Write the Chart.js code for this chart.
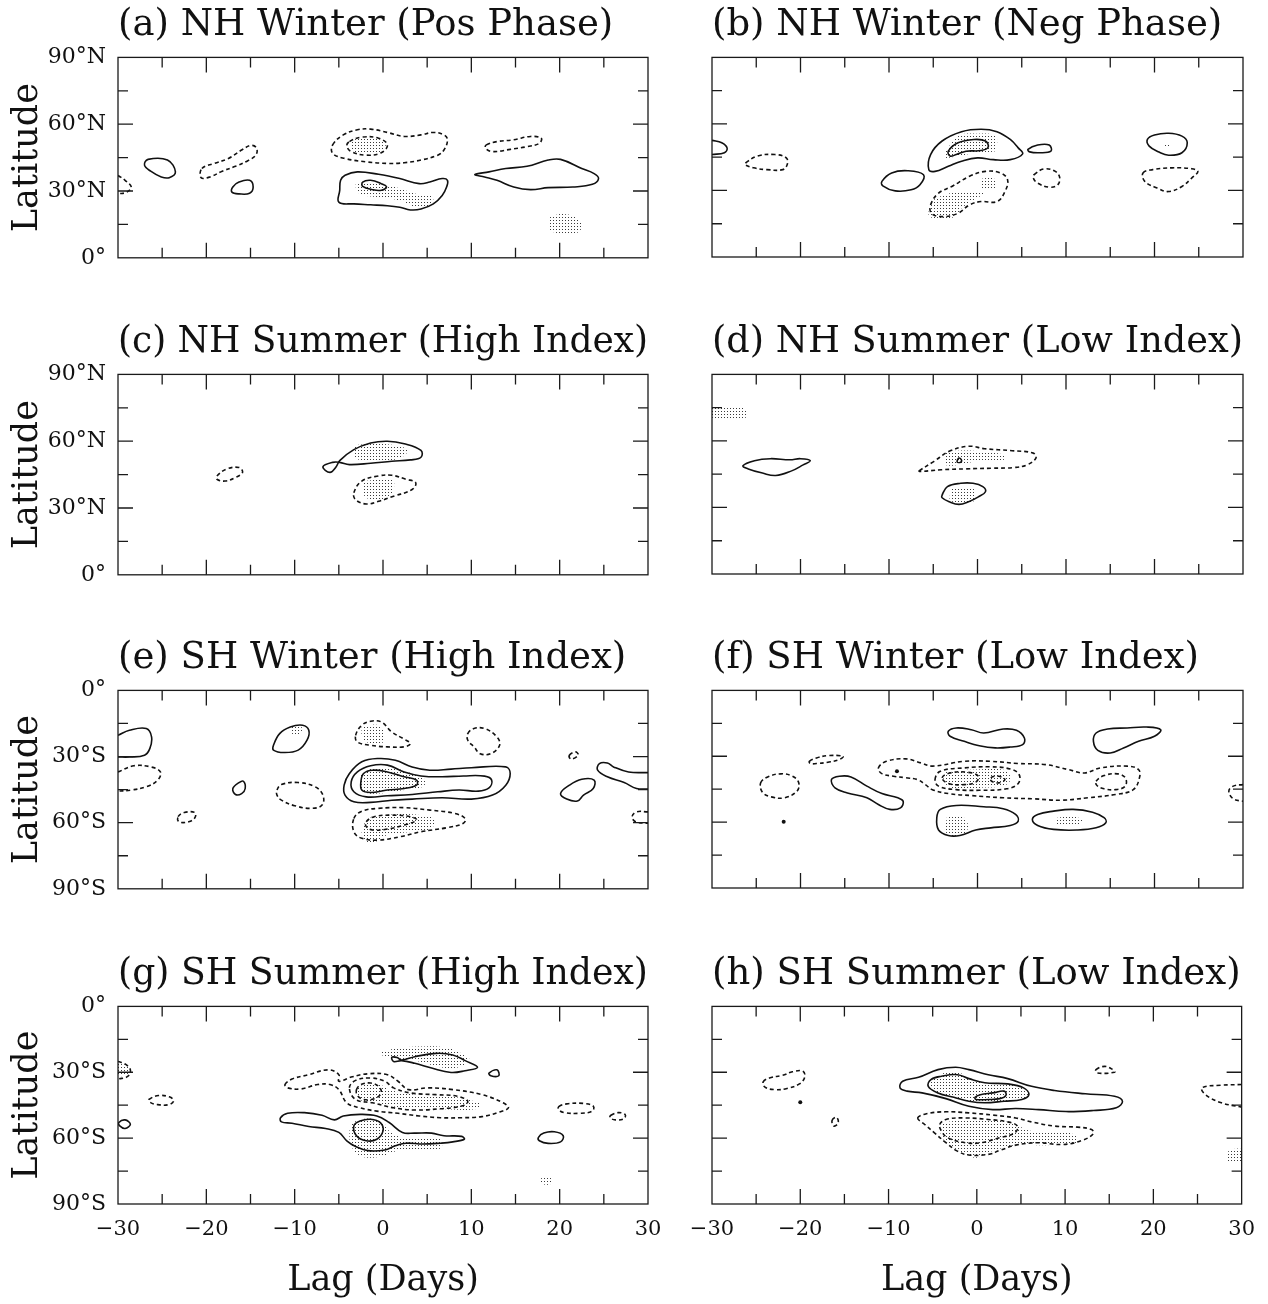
<!DOCTYPE html>
<html>
<head>
<meta charset="utf-8">
<title>Lag-latitude composites</title>
<script src="https://cdn.jsdelivr.net/npm/chart.js@4.4.0/dist/chart.umd.min.js"></script>
<style>
  body { margin: 0; background: #fff; }
  #page { position: relative; width: 1268px; height: 1304px; overflow: hidden; }
  canvas { position: absolute; }
</style>
</head>
<body>
<div id="page"></div>
<script>
// axis ticks and labels
const lagTicks = [-30, -20, -10, 0, 10, 20, 30];
const lagTickText = ['\u221230', '\u221220', '\u221210', '0', '10', '20', '30'];
const lagMarks = [-25, -20, -15, -10, -5, 0, 5, 10, 15, 20, 25];
const nhLatTicks = [0, 30, 60, 90];
const nhLatText = ['0\u00b0', '30\u00b0N', '60\u00b0N', '90\u00b0N'];
const nhLatMarks = [15, 30, 45, 60, 75];
const shLatTicks = [0, -30, -60, -90];
const shLatText = ['0\u00b0', '30\u00b0S', '60\u00b0S', '90\u00b0S'];
const shLatMarks = [-15, -30, -45, -60, -75];

const titles = [
  '(a) NH Winter (Pos Phase)', '(b) NH Winter (Neg Phase)',
  '(c) NH Summer (High Index)', '(d) NH Summer (Low Index)',
  '(e) SH Winter (High Index)', '(f) SH Winter (Low Index)',
  '(g) SH Summer (High Index)', '(h) SH Summer (Low Index)'
];

// contours, [lag, latitude]; Pos = solid, Neg = dashed, Sig = stippled
const aPos = [
  [[-27.0,41.6],[-26.6,44.2],[-24.4,43.9],[-23.5,38.6],[-24.2,36.0],[-25.1,36.3],[-26.3,38.9]],
  [[-17.0,31.8],[-16.3,34.0],[-15.1,34.8],[-14.7,31.8],[-15.1,29.0],[-16.3,28.7],[-17.1,29.5]],
  [[-4.3,37.1],[-2.9,38.6],[-0.5,37.5],[1.9,35.6],[4.1,33.3],[5.3,34.0],[6.7,35.6],[7.3,34.8],[7.2,31.8],[6.7,28.0],[5.7,24.2],[4.3,21.9],[3.1,21.5],[1.9,22.7],[0.5,23.4],[-1.4,23.8],[-3.3,24.2],[-5.0,25.0],[-4.9,30.3],[-4.8,34.8]],
  [[-2.3,34.0],[-1.4,34.8],[-0.2,33.3],[0.4,31.8],[-0.2,30.3],[-1.2,30.6],[-2.3,32.1]],
  [[10.4,37.4],[12.0,38.6],[13.9,40.1],[16.3,41.1],[18.7,43.9],[20.1,44.2],[22.5,40.1],[23.9,37.8],[24.4,35.6],[23.7,33.0],[21.5,31.8],[18.7,31.5],[16.7,30.6],[14.8,31.8],[12.9,34.8],[11.5,36.3]]
];
const aNeg = [
  [[-30,37.0],[-29.2,34.8],[-28.5,31.8],[-29.0,29.5],[-30,28.7]],
  [[-20.5,40.1],[-19.1,42.4],[-17.5,44.6],[-16.0,48.4],[-14.9,50.5],[-14.3,49.2],[-14.4,46.1],[-15.3,43.6],[-16.7,41.1],[-18.2,38.9],[-19.6,36.3],[-20.6,36.0]],
  [[-5.7,50.7],[-4.5,55.2],[-2.9,57.5],[-1.4,57.8],[0.5,56.3],[2.4,54.5],[4.3,55.2],[5.7,56.3],[6.9,55.2],[7.3,53.0],[6.9,48.4],[6.2,46.1],[4.3,43.9],[2.4,42.7],[0.5,42.4],[-1.9,43.1],[-4.3,44.6],[-5.7,46.9]],
  [[-3.8,52.2],[-2.4,54.2],[-0.5,53.7],[0.5,50.7],[-0.2,47.2],[-1.9,46.1],[-3.6,47.7],[-4.1,50.2]],
  [[11.7,50.7],[12.9,52.2],[14.8,53.0],[16.7,54.5],[17.9,53.7],[17.7,51.4],[16.3,49.9],[14.4,48.7],[12.4,47.7],[11.6,49.2]]
];
const aSig = [
  [[-3.6,52.5],[-2.4,54.0],[-0.6,53.5],[0.3,50.7],[-0.3,47.6],[-1.9,46.6],[-3.4,48.0]],
  [[-3.0,34.0],[-0.5,33.3],[1.4,31.8],[3.8,28.7],[5.5,28.0],[5.5,23.4],[3.8,22.7],[1.9,25.7],[-0.5,27.2],[-2.6,28.7],[-3.1,31.8]],
  [[18.9,18.2],[20.1,19.7],[21.8,18.2],[22.5,14.4],[22.0,11.3],[20.1,10.9],[18.8,12.9]]
];

const bPos = [
  [[-30,52.6],[-28.9,51.5],[-28.3,49.2],[-28.6,47.0],[-30,46.2]],
  [[-10.8,34.1],[-9.7,37.9],[-7.9,38.9],[-6.1,37.1],[-6.5,32.6],[-7.5,30.3],[-9.3,29.8],[-10.7,32.1]],
  [[-5.5,39.4],[-5.3,46.2],[-4.0,52.3],[-1.8,56.5],[0.4,57.6],[2.2,56.5],[3.7,53.0],[4.6,49.2],[5.1,46.5],[3.7,43.9],[1.8,43.9],[0,44.7],[-1.8,43.2],[-3.3,40.9],[-4.8,38.6]],
  [[-3.3,47.7],[-2.2,51.5],[-0.4,53.0],[0.9,52.3],[1.2,49.5],[0.4,48.0],[-1.3,47.7],[-2.4,46.2],[-3.1,45.5]],
  [[5.7,48.5],[6.8,50.5],[8.1,50.5],[8.3,47.7],[7.0,47.0],[5.9,47.4]],
  [[19.2,53.0],[20.0,55.0],[21.6,55.8],[23.1,54.5],[23.7,51.5],[23.1,47.0],[21.6,45.9],[20.5,47.3],[19.4,50.0]]
];
const bNeg = [
  [[-26.2,42.4],[-24.9,45.5],[-22.9,46.2],[-21.6,44.7],[-21.5,41.7],[-22.0,39.4],[-23.8,39.4],[-25.3,40.2],[-26.3,41.7]],
  [[-5.3,23.5],[-4.4,28.8],[-2.9,31.8],[-0.9,36.4],[0.9,38.6],[2.6,37.9],[3.4,34.8],[3.1,29.5],[2.2,25.0],[0.4,25.0],[-0.9,23.5],[-2.2,19.7],[-4.0,18.2],[-5.2,19.7]],
  [[6.4,37.1],[7.5,39.7],[8.8,38.6],[9.3,35.6],[9.0,32.3],[8.1,31.5],[6.8,33.3],[6.3,35.6]],
  [[18.7,37.9],[19.8,39.4],[22.0,40.2],[24.2,39.8],[24.9,38.6],[24.2,35.6],[23.1,31.8],[21.6,29.5],[20.3,31.1],[18.9,34.1]]
];
const bSig = [
  [[-3.7,47.0],[-2.2,54.5],[0,55.6],[2.0,54.5],[2.2,49.2],[2.0,47.7],[0,47.0],[-2.2,45.5],[-3.7,44.7]],
  [[-4.8,26.5],[-3.1,28.8],[-0.9,29.5],[0.7,28.8],[-0.4,25.8],[-1.8,22.0],[-2.6,18.2],[-4.4,16.7],[-5.5,18.9],[-5.3,22.7]],
  [[0.4,35.3],[1.8,35.6],[2.0,31.1],[0.5,31.1]],
  [[21.0,51.2],[21.8,51.2],[21.8,49.8],[21.0,49.8]]
];

const cPos = [
  [[-4.9,51.3],[-3.3,56.2],[-1.4,59.2],[0.5,60.0],[2.4,58.9],[4.3,55.9],[4.3,52.8],[3.1,51.6],[1.0,51.0],[-1.4,50.1],[-3.8,49.5],[-4.9,50.5],[-5.7,50.5],[-6.8,48.5],[-6.0,46.0],[-5.3,48.5]]
];
const cNeg = [
  [[-18.8,44.4],[-17.7,47.5],[-16.3,48.2],[-15.9,46.0],[-16.7,43.7],[-17.9,42.1],[-18.8,42.9]],
  [[-3.3,36.8],[-2.4,42.1],[-0.5,44.4],[1.0,44.7],[2.6,42.9],[3.7,41.4],[3.3,38.3],[1.2,35.3],[-0.5,33.0],[-1.9,31.8],[-3.1,33.7]]
];
const cSig = [
  [[-3.1,58.2],[-0.5,58.9],[1.9,57.7],[2.8,55.6],[1.7,52.1],[-0.5,51.3],[-3.1,52.1],[-3.3,55.1]],
  [[-2.2,42.1],[1.0,42.9],[1.2,38.3],[0.5,34.5],[-1.4,33.7],[-2.3,36.8]]
];

const dPos = [
  [[-26.5,48.8],[-25.2,51.1],[-23.4,52.0],[-21.2,51.5],[-20.0,52.0],[-18.9,51.1],[-19.7,49.2],[-21.0,46.5],[-22.8,44.4],[-24.3,45.5],[-25.9,47.4]],
  [[-4.0,35.6],[-3.4,39.4],[-1.9,40.9],[-0.5,40.9],[0.6,39.4],[0.9,37.1],[0.1,34.8],[-1.0,32.6],[-2.1,31.4],[-3.2,32.6],[-4.0,34.4]],
  [[-2.3,50.5],[-2.1,52.3],[-1.8,51.3],[-1.9,50.4]]
];
const dNeg = [
  [[-6.6,46.5],[-4.9,50.8],[-3.2,55.3],[-1.0,57.6],[0.8,56.5],[3.9,55.6],[6.3,54.5],[6.6,52.3],[5.6,49.2],[4.1,48.0],[1.7,47.7],[-1.4,47.4],[-4.1,47.0],[-6.5,46.2]]
];
const dSig = [
  [[-30,75.0],[-26.5,75.2],[-26.1,72.5],[-26.2,70.5],[-30,70.4]],
  [[-3.6,55.3],[-0.5,55.6],[3.0,53.8],[3.0,51.5],[-0.5,50.5],[-3.6,49.2]],
  [[-3.0,38.6],[-0.5,38.6],[-0.5,32.6],[-3.0,32.9]]
];

const ePos = [
  [[-30,-20.4],[-28.7,-18.1],[-26.8,-17.3],[-26.2,-21.1],[-26.4,-26.4],[-27.0,-29.4],[-28.7,-30.2],[-30,-30.2]],
  [[-17.0,-44.5],[-16.3,-41.8],[-15.8,-41.2],[-15.6,-44.5],[-16.0,-46.8],[-16.7,-47.2]],
  [[-12.4,-24.9],[-11.7,-19.6],[-10.5,-16.6],[-9.1,-15.8],[-8.4,-18.1],[-8.6,-22.6],[-9.6,-27.1],[-11.2,-28.2],[-12.4,-27.1]],
  [[-4.4,-43.0],[-3.8,-37.7],[-2.4,-32.4],[-0.5,-30.9],[1.4,-31.7],[3.3,-34.7],[5.3,-36.2],[7.7,-35.7],[10.0,-35.1],[13.9,-34.7],[14.4,-37.7],[13.9,-43.0],[12.4,-47.5],[10.0,-49.3],[6.7,-48.7],[3.3,-49.3],[1.0,-49.8],[-1.4,-50.8],[-3.3,-50.5],[-4.3,-47.5]],
  [[-3.6,-41.5],[-2.9,-37.0],[-1.4,-34.2],[0.5,-33.9],[2.4,-37.0],[4.3,-38.8],[6.7,-39.2],[9.1,-38.8],[11.5,-38.9],[12.3,-40.7],[12.0,-44.2],[10.8,-45.7],[8.6,-45.2],[6.2,-46.0],[3.3,-47.2],[0.5,-47.8],[-1.9,-48.3],[-3.3,-46.0]],
  [[-2.5,-41.5],[-2.2,-37.7],[-1.2,-36.2],[0.5,-37.0],[2.4,-39.2],[3.8,-40.7],[3.8,-43.0],[2.4,-44.5],[0.5,-45.2],[-1.4,-46.3],[-2.4,-45.2]],
  [[20.1,-46.8],[21.1,-43.0],[22.5,-40.3],[23.9,-40.7],[23.8,-44.5],[22.7,-47.5],[22.0,-50.2],[20.8,-49.3]],
  [[30,-37.3],[27.8,-37.0],[26.1,-34.7],[25.4,-32.9],[24.5,-33.2],[24.3,-36.2],[25.4,-39.2],[27.3,-41.8],[28.7,-44.5],[30,-44.8]]
];
const eNeg = [
  [[-30,-37.0],[-28.2,-34.2],[-26.3,-34.7],[-25.2,-37.0],[-25.5,-40.7],[-26.8,-43.7],[-28.5,-45.2],[-30,-45.7]],
  [[-23.2,-57.3],[-22.5,-55.4],[-21.3,-55.4],[-21.3,-57.8],[-22.0,-59.6],[-23.1,-59.6]],
  [[-12.0,-45.2],[-11.5,-42.7],[-9.6,-41.8],[-7.7,-43.7],[-6.8,-47.5],[-6.9,-52.0],[-8.1,-53.5],[-10.0,-52.3],[-11.5,-49.8],[-12.0,-47.5]],
  [[-3.1,-20.4],[-2.4,-15.8],[-1.4,-14.0],[-0.2,-14.3],[1.0,-18.9],[2.3,-21.9],[3.1,-24.1],[2.4,-25.6],[0.5,-25.6],[-1.4,-24.9],[-2.9,-23.4]],
  [[9.6,-19.6],[10.3,-17.3],[11.5,-17.3],[12.9,-21.1],[13.2,-24.9],[12.2,-28.7],[11.0,-28.7],[10.3,-25.6],[9.6,-22.6]],
  [[-3.3,-58.1],[-2.4,-54.8],[-0.5,-53.5],[2.4,-53.2],[5.3,-54.3],[8.1,-55.8],[9.3,-58.1],[9.1,-60.3],[7.2,-62.3],[4.3,-64.1],[1.9,-66.4],[-0.5,-67.9],[-2.4,-67.1],[-3.3,-64.1]],
  [[-1.9,-59.6],[-1.0,-57.3],[1.0,-56.6],[3.1,-57.3],[3.8,-58.8],[2.4,-61.1],[0.5,-62.9],[-1.2,-63.3],[-1.9,-61.8]],
  [[21.1,-29.4],[21.8,-27.9],[22.1,-29.4],[21.3,-31.2]],
  [[30,-55.1],[28.7,-55.1],[28.2,-57.3],[28.6,-59.6],[30,-60.3]]
];
const eSig = [
  [[-10.4,-16.2],[-9.3,-16.2],[-9.3,-19.4],[-10.4,-19.4]],
  [[-2.4,-16.6],[-0.5,-15.8],[0.2,-20.4],[-0.2,-24.1],[-1.9,-23.4],[-2.4,-20.4]],
  [[-2.5,-38.5],[-1.0,-35.1],[1.4,-35.4],[3.8,-38.5],[4.8,-40.7],[4.5,-43.7],[2.4,-45.2],[-0.5,-46.8],[-2.2,-46.0],[-2.6,-42.2]],
  [[-1.9,-58.1],[1.0,-56.3],[4.3,-56.6],[5.7,-58.1],[5.5,-62.6],[3.3,-64.1],[0.5,-65.6],[-1.4,-69.4],[-2.4,-65.6]]
];

const fPos = [
  [[-3.3,-18.6],[-2.4,-17.1],[-0.7,-17.9],[0.7,-19.4],[2.9,-17.6],[4.4,-18.2],[5.3,-21.7],[5.1,-24.7],[3.7,-25.8],[2.0,-26.2],[0.2,-25.2],[-1.5,-23.2],[-3.1,-20.9]],
  [[13.1,-23.2],[13.4,-19.4],[14.7,-17.6],[16.9,-17.1],[19.1,-16.7],[20.7,-17.9],[20.0,-20.9],[18.2,-23.2],[16.5,-26.2],[15.0,-28.5],[13.6,-27.3]],
  [[-16.5,-40.6],[-15.6,-39.1],[-14.3,-39.4],[-12.5,-43.6],[-10.8,-47.0],[-9.0,-48.9],[-8.4,-50.5],[-8.7,-53.5],[-9.9,-54.2],[-11.2,-52.0],[-12.5,-48.9],[-14.7,-46.7],[-16.1,-44.4]],
  [[-4.6,-58.0],[-4.2,-54.2],[-2.4,-52.4],[0.7,-53.0],[2.9,-53.9],[4.3,-56.5],[4.6,-59.5],[3.7,-61.5],[1.5,-62.6],[-0.2,-63.6],[-2.0,-66.1],[-3.3,-66.1],[-4.4,-63.6]],
  [[6.2,-58.8],[6.8,-56.5],[8.6,-55.0],[10.8,-54.2],[13.0,-55.5],[14.3,-58.0],[14.5,-60.3],[13.4,-62.6],[11.2,-63.6],[8.6,-63.3],[6.8,-61.5]]
];
const fNeg = [
  [[-19.0,-32.3],[-18.2,-30.8],[-16.9,-29.7],[-15.2,-30.0],[-15.6,-31.5],[-16.9,-32.7],[-18.2,-33.3],[-18.9,-33.3]],
  [[-24.5,-42.1],[-23.7,-39.4],[-22.2,-38.0],[-20.9,-39.1],[-20.2,-42.1],[-20.4,-45.9],[-21.8,-48.9],[-23.3,-48.5],[-24.3,-46.4]],
  [[-11.2,-35.3],[-10.3,-32.3],[-8.1,-31.2],[-6.4,-33.0],[-5.1,-34.5],[-1.5,-32.3],[1.5,-32.3],[4.6,-33.3],[7.7,-33.8],[10.3,-36.1],[12.1,-37.6],[13.9,-35.3],[16.9,-34.5],[18.2,-36.1],[18.3,-39.8],[17.6,-45.2],[15.6,-47.4],[12.5,-48.9],[9.5,-50.0],[6.4,-49.4],[2.9,-48.9],[-0.7,-47.9],[-3.3,-47.0],[-5.1,-45.2],[-5.9,-42.9],[-6.8,-40.6],[-8.1,-39.8],[-9.5,-39.1],[-10.8,-37.9]],
  [[-4.8,-40.6],[-4.2,-36.8],[-1.5,-35.3],[1.5,-34.8],[3.7,-35.8],[4.7,-38.3],[4.6,-42.4],[3.3,-44.8],[0.2,-45.5],[-2.4,-45.2],[-4.4,-43.6]],
  [[-4.0,-39.8],[-3.1,-37.6],[-1.1,-37.3],[0.1,-39.1],[-0.2,-41.8],[-1.5,-42.9],[-3.3,-42.4]],
  [[1.5,-39.8],[2.4,-39.1],[3.1,-40.6],[2.4,-42.1],[1.6,-41.4]],
  [[13.4,-41.4],[14.3,-38.8],[15.8,-38.0],[16.7,-39.8],[16.7,-43.6],[15.6,-45.2],[14.3,-44.8],[13.5,-43.3]],
  [[30,-42.9],[28.9,-43.6],[28.4,-45.9],[28.9,-49.4],[30,-50.5]]
];
const fSig = [
  [[-3.7,-36.8],[-0.7,-36.1],[2.9,-36.1],[3.7,-39.1],[3.3,-42.9],[0.2,-44.4],[-2.9,-44.4],[-3.8,-41.4]],
  [[-3.5,-58.0],[-2.4,-57.0],[-1.3,-58.8],[-1.2,-64.1],[-2.4,-66.4],[-3.5,-65.2]],
  [[9.0,-58.0],[10.8,-57.3],[11.9,-59.5],[10.8,-61.5],[9.0,-61.1]]
];
const fSpots = [[-21.9,-59.8],[-9.1,-36.8]];

const gPos = [
  [[-29.9,-52.9],[-29.2,-51.7],[-28.6,-53.7],[-29.2,-55.6],[-29.8,-54.4]],
  [[1.0,-23.2],[1.6,-23.3],[2.1,-24.4],[3.6,-22.9],[6.0,-21.4],[7.9,-22.1],[9.3,-24.7],[10.7,-27.7],[9.3,-29.3],[7.7,-30.1],[5.5,-28.1],[3.6,-25.9],[2.1,-24.7],[1.2,-25.1]],
  [[12.0,-30.4],[12.9,-28.9],[13.1,-31.6],[12.2,-31.6]],
  [[-11.6,-50.7],[-10.8,-48.7],[-8.9,-48.4],[-6.9,-49.6],[-5.5,-51.7],[-4.5,-49.9],[-2.6,-49.2],[-0.7,-49.9],[0.7,-52.9],[2.2,-57.4],[3.6,-57.7],[5.5,-57.7],[6.9,-58.9],[8.9,-59.2],[9.2,-60.5],[7.9,-61.7],[6.5,-62.3],[4.5,-62.7],[2.6,-62.3],[1.4,-63.5],[0.2,-65.4],[-1.7,-65.7],[-3.1,-63.8],[-4.1,-61.2],[-5.0,-57.4],[-6.5,-55.6],[-8.4,-54.7],[-10.3,-53.2],[-11.5,-52.6]],
  [[-3.3,-54.4],[-2.6,-52.2],[-1.4,-51.4],[-0.3,-52.9],[0,-56.7],[-0.7,-60.5],[-1.9,-61.2],[-3.0,-58.9]],
  [[17.6,-59.7],[18.2,-57.7],[19.4,-57.1],[20.4,-58.9],[20.1,-61.7],[18.7,-62.4],[17.7,-61.2]]
];
const gNeg = [
  [[-30,-25.1],[-29.2,-26.2],[-28.6,-28.9],[-28.9,-31.9],[-30,-33.1]],
  [[-26.5,-42.4],[-25.4,-40.6],[-24.2,-41.2],[-23.7,-42.9],[-24.2,-44.7],[-25.6,-44.7],[-26.4,-43.6]],
  [[-11.1,-35.6],[-10.3,-33.1],[-8.4,-31.1],[-6.2,-28.9],[-5.0,-31.1],[-5.0,-34.1],[-3.6,-32.2],[-1.7,-30.7],[0.5,-31.1],[1.7,-34.1],[2.9,-37.9],[5.0,-37.1],[7.9,-37.9],[11.2,-40.2],[13.6,-43.9],[14.2,-46.2],[13.2,-48.1],[11.2,-50.2],[8.9,-50.7],[6.5,-50.7],[4.1,-49.9],[1.7,-48.7],[-0.7,-47.7],[-2.6,-46.2],[-4.1,-43.9],[-5.0,-37.9],[-6.0,-35.6],[-7.4,-35.6],[-9.3,-37.6],[-10.8,-37.1]],
  [[-3.8,-37.1],[-3.1,-33.7],[-1.4,-32.6],[0.2,-34.1],[1.2,-37.1],[3.1,-39.4],[6.0,-40.2],[8.4,-40.9],[9.6,-43.2],[8.9,-45.4],[6.5,-46.6],[3.6,-47.2],[1.2,-46.2],[-1.2,-43.9],[-3.1,-42.4]],
  [[-3.0,-37.9],[-2.5,-35.6],[-1.4,-34.9],[-0.5,-36.4],[-0.2,-39.4],[-1.0,-42.1],[-2.2,-42.4],[-2.9,-40.6]],
  [[19.9,-45.7],[20.8,-44.4],[22.7,-44.2],[23.8,-45.4],[23.7,-47.7],[22.2,-48.7],[20.6,-48.4],[19.9,-47.2]],
  [[25.8,-49.6],[26.6,-48.4],[27.4,-49.2],[27.3,-51.1],[26.3,-51.7],[25.7,-50.7]]
];
const gSig = [
  [[-30,-26.0],[-29.0,-27.0],[-28.8,-30.5],[-30,-31.5]],
  [[-0.2,-20.6],[1.7,-19.1],[4.1,-18.3],[6.9,-18.6],[8.9,-21.4],[9.8,-24.4],[8.6,-27.7],[6.5,-27.7],[4.1,-25.1],[1.7,-23.6],[-0.2,-22.1]],
  [[-2.9,-36.4],[-0.7,-34.9],[0.7,-37.9],[3.6,-40.2],[6.9,-40.6],[10.8,-43.9],[10.8,-46.6],[6.5,-46.9],[2.2,-46.2],[-0.7,-43.9],[-2.6,-42.4]],
  [[-3.6,-52.9],[-1.7,-51.1],[0,-52.9],[0.7,-56.7],[2.2,-59.7],[4.1,-60.2],[6.5,-60.5],[6.5,-64.7],[4.1,-65.3],[1.7,-65.7],[-0.7,-68.7],[-2.6,-68.0],[-3.6,-63.5],[-3.8,-57.4]],
  [[17.9,-77.7],[18.9,-77.7],[19.0,-80.8],[18.0,-80.8]]
];

const hPos = [
  [[-8.7,-37.1],[-8.4,-34.1],[-6.6,-32.3],[-4.4,-28.8],[-2.4,-27.7],[-0.9,-28.8],[1.3,-31.1],[3.5,-32.9],[6.2,-36.4],[8.8,-38.3],[12.3,-39.8],[15.6,-40.9],[16.5,-43.2],[15.8,-46.2],[13.2,-47.4],[10.1,-47.9],[7.0,-47.0],[4.4,-46.5],[1.8,-47.0],[-0.9,-45.5],[-3.5,-42.0],[-6.2,-39.4],[-7.9,-38.6]],
  [[-5.5,-36.4],[-5.2,-33.3],[-4.0,-31.8],[-2.2,-31.1],[-0.9,-32.9],[0.9,-34.8],[3.5,-35.3],[5.3,-37.1],[5.9,-40.2],[5.1,-42.4],[3.1,-43.2],[0.9,-43.9],[-0.9,-43.2],[-2.6,-41.4],[-4.4,-39.4]],
  [[-0.2,-41.4],[0.4,-40.2],[1.8,-39.4],[3.1,-38.6],[3.3,-40.5],[2.6,-42.0],[1.3,-42.4],[-0.1,-42.4]]
];
const hNeg = [
  [[-24.2,-34.4],[-23.5,-32.6],[-22.0,-31.4],[-20.9,-29.8],[-19.7,-29.5],[-19.5,-32.3],[-20.1,-35.3],[-21.5,-37.4],[-22.9,-37.9],[-24.0,-36.8]],
  [[-16.4,-52.0],[-15.9,-50.5],[-15.7,-53.0],[-16.2,-54.5]],
  [[-6.7,-50.8],[-5.7,-48.9],[-3.5,-48.0],[-0.9,-48.5],[1.8,-49.5],[4.4,-50.8],[6.2,-52.6],[8.8,-54.5],[11.4,-55.0],[13.0,-56.1],[13.2,-58.0],[11.9,-61.1],[9.7,-62.9],[7.0,-62.1],[4.4,-63.2],[2.6,-65.6],[1.3,-67.4],[-0.9,-67.7],[-2.2,-65.9],[-3.5,-62.1],[-4.8,-57.6],[-5.9,-53.8]],
  [[-4.2,-53.8],[-3.5,-51.5],[-1.3,-50.8],[1.3,-51.5],[3.5,-52.6],[4.6,-54.5],[4.3,-57.6],[2.6,-59.8],[0.4,-62.1],[-1.3,-62.1],[-3.3,-59.8],[-4.0,-56.8]],
  [[13.5,-28.8],[14.5,-27.3],[15.4,-28.8],[15.6,-30.0],[13.6,-30.3]],
  [[30,-35.6],[27.7,-35.9],[25.5,-37.1],[25.9,-40.2],[27.7,-43.9],[30,-45.9]]
];
const hSig = [
  [[-5.3,-36.0],[-5.0,-33.3],[-3.8,-30.5],[-2.2,-29.8],[-0.9,-32.9],[0.9,-34.8],[3.5,-35.3],[5.3,-37.1],[5.9,-40.2],[5.1,-42.4],[3.1,-43.2],[0.9,-43.9],[-0.9,-43.2],[-2.6,-41.4],[-4.4,-39.4]],
  [[-4.0,-53.0],[-0.9,-51.5],[3.5,-52.6],[6.2,-56.8],[8.8,-57.6],[11.0,-58.3],[11.4,-62.1],[7.9,-63.2],[4.4,-63.2],[1.8,-65.9],[0,-68.9],[-1.3,-67.4],[-2.6,-64.4],[-4.0,-59.1]],
  [[28.5,-65.2],[30,-65.2],[30,-70.5],[28.5,-70.5]]
];
const hSpots = [[-20.0,-43.6]];

// page layout
const rowTop = [0, 317, 633, 949];
const rowPlotH = [200, 200, 198, 198];
const INK = '#111';
Chart.defaults.font.family = "'DejaVu Serif', serif";
Chart.defaults.color = INK;

const panels = [
  {pos: aPos, neg: aNeg, sig: aSig, spots: [], sh: false},
  {pos: bPos, neg: bNeg, sig: bSig, spots: [], sh: false},
  {pos: cPos, neg: cNeg, sig: cSig, spots: [], sh: false},
  {pos: dPos, neg: dNeg, sig: dSig, spots: [], sh: false},
  {pos: ePos, neg: eNeg, sig: eSig, spots: [], sh: true},
  {pos: fPos, neg: fNeg, sig: fSig, spots: fSpots, sh: true},
  {pos: gPos, neg: gNeg, sig: gSig, spots: [], sh: true},
  {pos: hPos, neg: hNeg, sig: hSig, spots: hSpots, sh: true}
];

function stipple() {
  const tile = document.createElement('canvas');
  tile.width = 3; tile.height = 3;
  const g = tile.getContext('2d');
  g.fillStyle = '#3a3a3a';
  g.fillRect(1, 1, 1, 1);
  return g.createPattern(tile, 'repeat');
}
const dots = stipple();

const xy = p => ({x: p[0], y: p[1]});

// closed contours get padded so the spline wraps smoothly; the pad segments are hidden
function contourSets(list, dashed) {
  return list.map(pts => {
    const open = Math.abs(pts[0][0]) === 30;
    const seq = open ? pts : [pts[pts.length - 1], ...pts, pts[0], pts[1]];
    const last = seq.length - 1;
    return {
      data: seq.map(xy),
      showLine: true, pointRadius: 0, tension: 0.4,
      borderColor: INK, borderWidth: 1.6,
      borderDash: dashed ? [4, 3] : [],
      segment: open ? undefined : {
        borderColor: c => (c.p0DataIndex === 0 || c.p1DataIndex === last) ? 'rgba(0,0,0,0)' : undefined
      }
    };
  });
}

function shadeSets(list) {
  return list.map(pts => ({
    data: [...pts, pts[0]].map(xy),
    showLine: true, pointRadius: 0, tension: 0.4,
    borderColor: 'rgba(0,0,0,0)', borderWidth: 0,
    backgroundColor: dots, fill: 'shape'
  }));
}

// box and inward tick marks, placed through the chart's own scales
const framePlugin = {
  id: 'frame',
  afterDatasetsDraw(chart, args, opts) {
    const {ctx, chartArea: {left, right, top, bottom}, scales: {x, y}} = chart;
    ctx.save();
    ctx.strokeStyle = '#1a1a1a';
    ctx.lineWidth = 1.3;
    ctx.strokeRect(left, top, right - left, bottom - top);
    ctx.beginPath();
    for (const v of lagMarks) {
      const px = x.getPixelForValue(v);
      const len = v % 10 === 0 ? 15 : 10;
      ctx.moveTo(px, top); ctx.lineTo(px, top + len);
      ctx.moveTo(px, bottom); ctx.lineTo(px, bottom - len);
    }
    for (const v of opts.lat) {
      const py = y.getPixelForValue(v);
      const len = v % 30 === 0 ? 15 : 10;
      ctx.moveTo(left, py); ctx.lineTo(left + len, py);
      ctx.moveTo(right, py); ctx.lineTo(right - len, py);
    }
    ctx.stroke();
    ctx.restore();
  }
};

const page = document.getElementById('page');

panels.forEach((p, i) => {
  const col = i % 2, row = Math.floor(i / 2);
  const bottomRow = row === 3;
  const cv = document.createElement('canvas');
  const w = col ? 608 : 690;
  // the lowest latitude label on the left column claims about 26px under the plot
  const below = bottomRow ? 100 : (col ? 14 : 26);
  const h = 57 + rowPlotH[row] + below;
  cv.width = w; cv.height = h;
  cv.style.left = (col ? 660 : 0) + 'px';
  cv.style.top = rowTop[row] + 'px';
  cv.style.width = w + 'px'; cv.style.height = h + 'px';
  page.appendChild(cv);

  const latTicks = p.sh ? shLatTicks : nhLatTicks;
  const latText = p.sh ? shLatText : nhLatText;

  const datasets = [
    ...contourSets(p.pos, false),
    ...contourSets(p.neg, true),
    {data: p.spots.map(xy), showLine: false, pointRadius: 2, backgroundColor: INK, borderWidth: 0},
    ...shadeSets(p.sig)
  ];

  new Chart(cv, {
    type: 'scatter',
    data: {datasets},
    options: {
      responsive: false,
      devicePixelRatio: 1,
      animation: false,
      events: [],
      layout: {padding: {left: col ? 52 : 0, right: col ? 25 : 42, top: 0, bottom: bottomRow ? 0 : (col ? 14 : 2)}},
      plugins: {
        legend: {display: false},
        tooltip: {enabled: false},
        title: {
          display: true, text: titles[i], align: 'start', fullSize: false,
          font: {size: 37, weight: 'normal'}, color: INK,
          padding: {top: 3, bottom: 10}
        },
        frame: {lat: p.sh ? shLatMarks : nhLatMarks}
      },
      scales: {
        x: {
          type: 'linear', min: -30, max: 30,
          display: bottomRow,
          afterBuildTicks: s => { s.ticks = lagTicks.map(value => ({value})); },
          afterFit: s => { if (bottomRow) s.height = 100; },
          grid: {display: false, drawTicks: false},
          border: {display: false},
          ticks: {
            autoSkip: false, maxRotation: 0, padding: 13,
            font: {size: 21}, color: INK,
            callback: (v, k) => lagTickText[k]
          },
          title: {display: true, text: 'Lag (Days)', font: {size: 35}, color: INK, padding: {top: 0, bottom: 2}}
        },
        y: {
          type: 'linear',
          min: p.sh ? -90 : 0, max: p.sh ? 0 : 90,
          display: col === 0,
          afterBuildTicks: s => { s.ticks = latTicks.map(value => ({value})); },
          afterFit: s => { if (col === 0) s.width = 118; },
          grid: {display: false, drawTicks: false},
          border: {display: false},
          ticks: {
            autoSkip: false, padding: 12,
            font: {size: 22}, color: INK,
            callback: (v, k) => latText[k]
          },
          title: {display: true, text: 'Latitude', font: {size: 35}, color: INK, padding: {top: 7, bottom: 0}}
        }
      }
    },
    plugins: [framePlugin]
  });
});
</script>
</body>
</html>
